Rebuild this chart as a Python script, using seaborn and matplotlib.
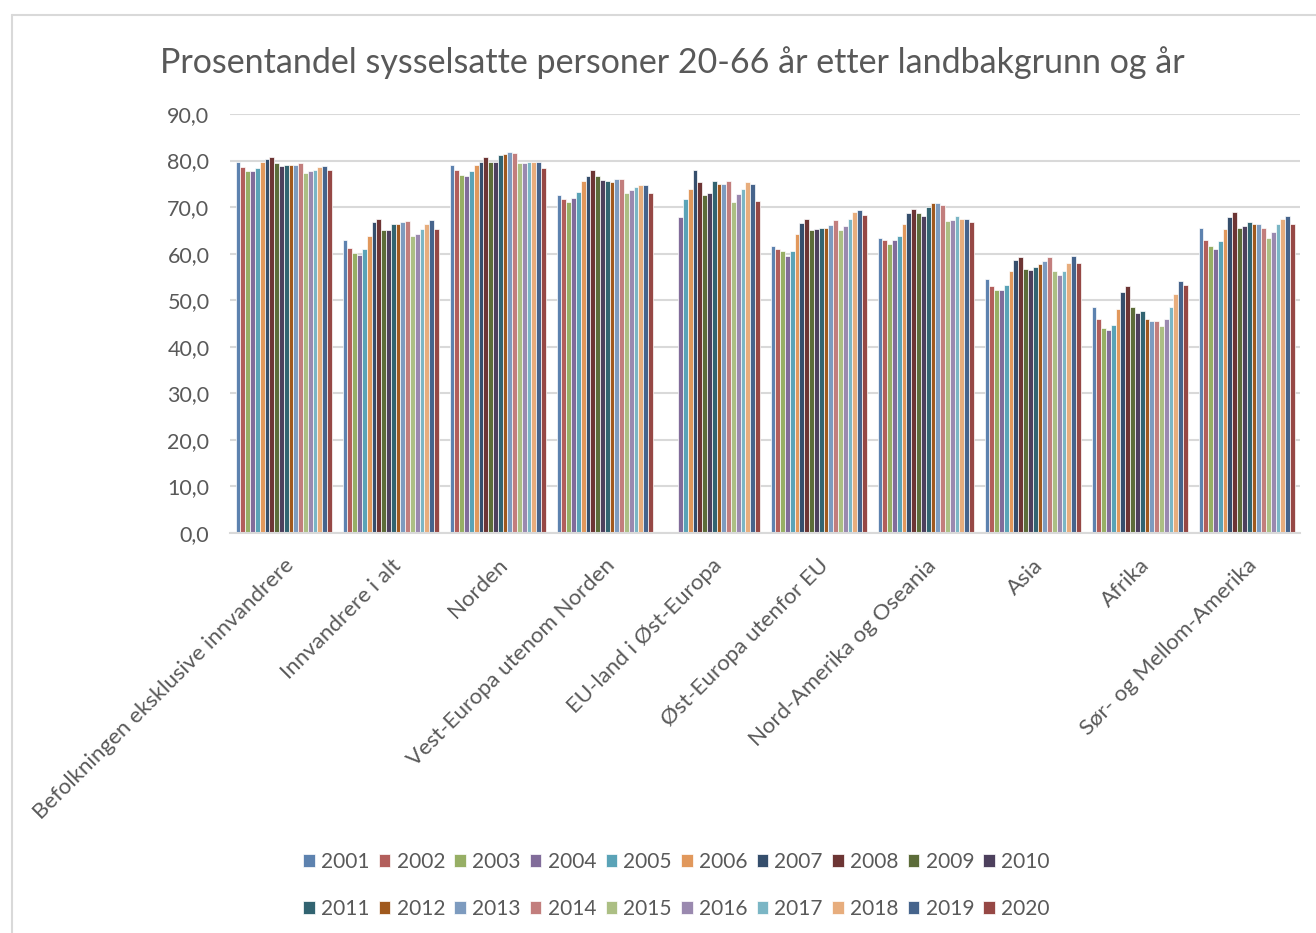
import matplotlib
matplotlib.use("Agg")

import matplotlib.pyplot as plt
import numpy as np
import pandas as pd
import seaborn as sns
from matplotlib.lines import Line2D

# Data (percent employed, age 20-66)
years = [str(y) for y in range(2001, 2021)]

categories = [
    "Befolkningen eksklusive innvandrere",
    "Innvandrere i alt",
    "Norden",
    "Vest-Europa utenom Norden",
    "EU-land i Øst-Europa",
    "Øst-Europa utenfor EU",
    "Nord-Amerika og Oseania",
    "Asia",
    "Afrika",
    "Sør- og Mellom-Amerika",
]

befolkningen = [79.6, 78.6, 77.7, 77.7, 78.3, 79.6, 80.4, 80.8, 79.4, 78.8,
                79.1, 79.1, 79.1, 79.4, 77.4, 77.7, 78.0, 78.6, 78.9, 78.0]
innvandrere = [62.9, 61.2, 60.1, 59.8, 60.9, 63.9, 66.7, 67.5, 65.1, 65.1,
               66.4, 66.4, 66.7, 67.0, 63.9, 64.2, 65.3, 66.4, 67.2, 65.3]
norden = [79.1, 78.0, 77.0, 76.7, 77.7, 79.1, 79.7, 80.8, 79.7, 79.7,
          81.1, 81.4, 81.9, 81.6, 79.4, 79.4, 79.7, 79.7, 79.7, 78.3]
vest_europa = [72.5, 71.7, 71.1, 72.0, 73.3, 75.6, 76.7, 78.0, 76.7, 75.8,
               75.6, 75.3, 76.1, 76.1, 73.0, 73.6, 74.4, 74.7, 74.7, 73.0]
eu_ost = [np.nan, np.nan, np.nan, 67.8, 71.7, 73.9, 78.0, 75.3, 72.5, 73.0,
          75.6, 75.0, 75.0, 75.6, 71.1, 72.8, 73.9, 75.3, 75.0, 71.4]
ost_utenfor_eu = [61.7, 60.9, 60.6, 59.6, 60.6, 64.2, 66.5, 67.5, 65.1, 65.3,
                  65.6, 65.6, 66.2, 67.2, 65.1, 65.9, 67.5, 68.9, 69.4, 68.3]
nord_amerika = [63.4, 62.9, 62.0, 62.9, 63.9, 66.4, 68.7, 69.7, 68.7, 68.1,
                70.0, 70.8, 70.8, 70.5, 67.0, 67.2, 68.1, 67.5, 67.5, 66.7]
asia = [54.6, 53.0, 52.1, 52.1, 53.3, 56.3, 58.7, 59.3, 56.7, 56.5,
        57.1, 57.8, 58.4, 59.3, 56.3, 55.4, 56.3, 58.1, 59.6, 58.1]
afrika = [48.5, 46.0, 44.1, 43.6, 44.6, 48.2, 51.8, 53.0, 48.5, 47.2,
          47.7, 46.0, 45.5, 45.5, 44.4, 46.0, 48.5, 51.3, 54.1, 53.3]
sor_amerika = [65.5, 62.9, 61.7, 61.1, 62.8, 65.2, 67.8, 68.9, 65.5, 65.9,
               66.7, 66.4, 66.4, 65.5, 63.4, 64.7, 66.4, 67.5, 68.0, 66.4]

series = [befolkningen, innvandrere, norden, vest_europa, eu_ost,
          ost_utenfor_eu, nord_amerika, asia, afrika, sor_amerika]

# Excel-style palette, one colour per year
colors = ["#4F81BD", "#C0504D", "#9BBB59", "#8064A2", "#4BACC6", "#F79646",
          "#2C4D75", "#772C2A", "#5F7530", "#4D3B62", "#276A7C", "#B65708",
          "#729ACA", "#CD7371", "#AFC97A", "#9983B5", "#6FBDD1", "#F9AB6B",
          "#3A6398", "#A33B38"]

rows = []
for cat, vals in zip(categories, series):
    for yr, v in zip(years, vals):
        rows.append({"kategori": cat, "år": yr, "andel": v})
df = pd.DataFrame(rows).dropna()

sns.set_style("white")
plt.rcParams["font.family"] = ["Lato", "DejaVu Sans"]
text_color = "#595959"
grid_color = "#D9D9D9"

fig = plt.figure(figsize=(13.16, 9.33), dpi=100)
ax = fig.add_axes([0.175, 0.4287, 0.813, 0.4491])

sns.barplot(
    data=df, x="kategori", y="andel", hue="år",
    order=categories, hue_order=years, palette=colors,
    width=0.9, edgecolor="white", linewidth=0.5, ax=ax,
)

ax.set_ylim(0, 90)
ax.set_yticks(np.arange(0, 91, 10))
ax.set_yticklabels([f"{t:.1f}".replace(".", ",") for t in np.arange(0, 91, 10)],
                   fontsize=15.5, color=text_color)
ax.yaxis.grid(True, color=grid_color, linewidth=1.5)
ax.set_axisbelow(True)
for side in ["left", "right", "top"]:
    ax.spines[side].set_visible(False)
ax.spines["bottom"].set_color(grid_color)
ax.spines["bottom"].set_linewidth(1.5)
ax.tick_params(axis="y", length=0, pad=15)
ax.tick_params(axis="x", length=0, pad=16)
ax.set_xlabel("")
ax.set_ylabel("")
ax.set_xlim(-0.5, len(categories) - 0.5)

for lbl in ax.get_xticklabels():
    lbl.set_rotation(45)
    lbl.set_ha("right")
    lbl.set_rotation_mode("anchor")
    lbl.set_fontsize(16)
    lbl.set_color(text_color)

fig.suptitle("Prosentandel sysselsatte personer 20-66 år etter landbakgrunn og år",
             x=0.511, y=0.951, fontsize=24.5, color=text_color)

# Legend: two rows, 2001-2010 on top, 2011-2020 below
handles, labels = ax.get_legend_handles_labels()
ax.get_legend().remove()
order = []
for i in range(10):
    order += [i, i + 10]
fig.legend([handles[i] for i in order], [labels[i] for i in order],
           ncol=10, loc="center", bbox_to_anchor=(0.514, 0.051),
           frameon=False, fontsize=15, labelcolor=text_color,
           handlelength=0.55, handleheight=0.55, handletextpad=0.3,
           columnspacing=0.45, labelspacing=1.3)

# Light frame around the chart area (left and top edges visible)
fig.add_artist(Line2D([12 / 1316, 12 / 1316], [0, 1 - 15 / 933],
                      transform=fig.transFigure, color=grid_color, lw=1.5))
fig.add_artist(Line2D([12 / 1316, 1], [1 - 15 / 933, 1 - 15 / 933],
                      transform=fig.transFigure, color=grid_color, lw=1.5))

fig.savefig("out.png", dpi=100)
plt.close(fig)
